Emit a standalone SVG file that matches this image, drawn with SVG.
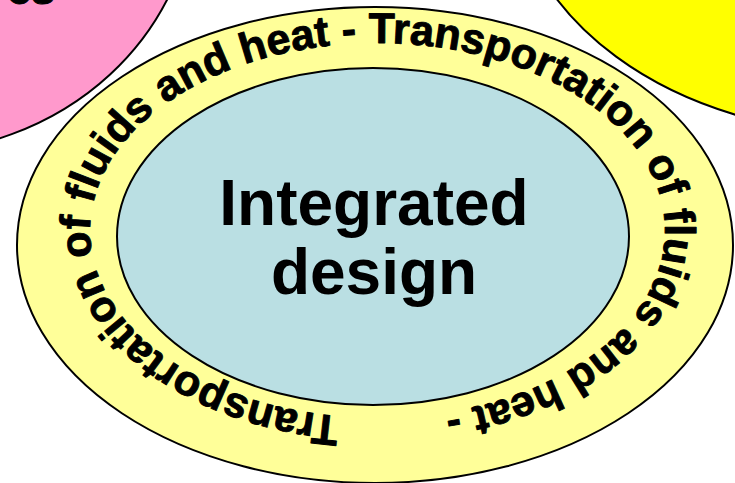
<svg xmlns="http://www.w3.org/2000/svg" xmlns:xlink="http://www.w3.org/1999/xlink" width="735" height="483" viewBox="0 0 735 483">
<style>
.shape{stroke:#000;stroke-width:2}
.ring{font-family:"Liberation Sans",Arial,sans-serif;font-weight:bold;font-size:43px;fill:#000;stroke:#000;stroke-width:0.9;stroke-linejoin:round}
.main{font-family:"Liberation Sans",Arial,sans-serif;font-weight:bold;font-size:64px;fill:#000;text-anchor:middle}
</style>
<defs>
<path id="ringPath" d="M 90 230.5 A 287.5 187.5 0 0 1 665 230.5 A 287.5 187.5 0 0 1 90 230.5 A 287.5 187.5 0 0 1 665 230.5 A 287.5 187.5 0 0 1 90 230.5"/>
</defs>
<rect width="735" height="483" fill="#fff"/>
<g id="pink-node">
<ellipse class="shape" cx="-95" cy="-115" rx="290" ry="268" fill="#FF99CC"/>
<text class="ring" x="55" y="4" text-anchor="end">es</text>
</g>
<g id="yellow-node">
<ellipse class="shape" cx="870" cy="-130" rx="359" ry="264" fill="#FFFF00"/>
</g>
<g id="ring-node">
<ellipse class="shape" cx="375" cy="245" rx="358" ry="238" fill="#FFFF99"/>
<text class="ring"><textPath xlink:href="#ringPath" href="#ringPath" startOffset="368">Transportation of fluids and heat -</textPath></text>
<text class="ring"><textPath xlink:href="#ringPath" href="#ringPath" startOffset="1169">Transportation of fluids and heat -</textPath></text>
</g>
<g id="center-node">
<ellipse class="shape" cx="373" cy="236.5" rx="256" ry="168.5" fill="#BADFE3"/>
<text class="main" x="374" y="225">Integrated</text>
<text class="main" x="374" y="294">design</text>
</g>
<g id="connectors"></g>
</svg>
